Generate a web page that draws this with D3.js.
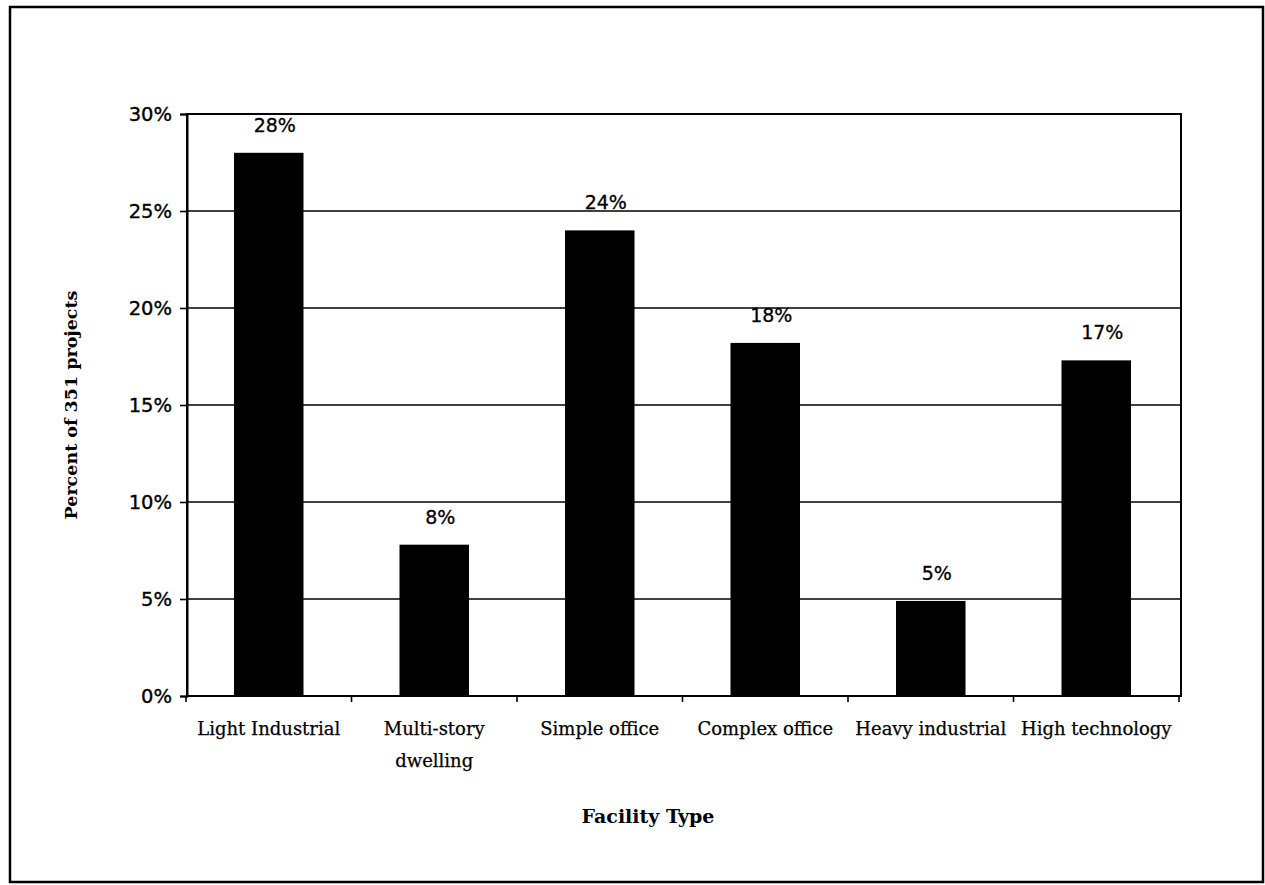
<!DOCTYPE html>
<html>
<head>
<meta charset="utf-8">
<script src="https://cdn.jsdelivr.net/npm/d3@7"></script>
<style>
  html, body { margin: 0; padding: 0; background: #fff; }
  svg { display: block; }
</style>
</head>
<body>
<svg id="chart" width="1265" height="885"></svg>
<script>
// Facility types and the share of the 351 projects in each (percent)
const categories = [
  ["Light Industrial"],
  ["Multi-story", "dwelling"],
  ["Simple  office"],
  ["Complex office"],
  ["Heavy industrial"],
  ["High technology"]
];
const shares = [28.0, 7.8, 24.0, 18.2, 4.9, 17.3];
const yTicks = [0, 5, 10, 15, 20, 25, 30];
const xTitle = "Facility Type";
const yTitle = "Percent of 351 projects";

const svg = d3.select("#chart");
const W = 1265, H = 885;
const plot = { left: 187, right: 1181, top: 114, bottom: 696 };

// outer frame
svg.append("rect")
  .attr("x", 10).attr("y", 7)
  .attr("width", W - 12).attr("height", H - 10)
  .attr("fill", "#fff").attr("stroke", "#000").attr("stroke-width", 2.5);

const x = d3.scaleBand()
  .domain(d3.range(categories.length))
  .range([plot.left - 1, plot.right - 2])
  .paddingInner(0.58)
  .paddingOuter(0.29);

const y = d3.scaleLinear()
  .domain([0, 30])
  .range([plot.bottom, plot.top]);

// horizontal gridlines
svg.append("g")
  .selectAll("line")
  .data(yTicks)
  .join("line")
  .attr("x1", plot.left).attr("x2", plot.right)
  .attr("y1", d => y(d)).attr("y2", d => y(d))
  .attr("stroke", "#000").attr("stroke-width", 1.6);

// plot frame
svg.append("rect")
  .attr("x", plot.left).attr("y", plot.top)
  .attr("width", plot.right - plot.left).attr("height", plot.bottom - plot.top)
  .attr("fill", "none").attr("stroke", "#000").attr("stroke-width", 2);

// y axis with percent labels
const yAxis = d3.axisLeft(y)
  .tickValues(yTicks)
  .tickFormat(d => d + "%")
  .tickSize(7)
  .tickPadding(8);
const gy = svg.append("g")
  .attr("transform", `translate(${plot.left},0)`)
  .call(yAxis);
gy.select(".domain").attr("stroke", "#000").attr("stroke-width", 2);
gy.selectAll(".tick line").attr("stroke", "#000").attr("stroke-width", 1.6);
gy.selectAll(".tick text")
  .attr("fill", "#000")
  .style("font-family", "'DejaVu Sans', sans-serif")
  .style("font-size", "19.5px")
  .attr("stroke", "#000").attr("stroke-width", 0.35);

// category tick marks on the baseline, at band boundaries
const boundaries = d3.range(categories.length + 1)
  .map(i => plot.left - 1 + i * x.step());
svg.append("g")
  .selectAll("line")
  .data(boundaries)
  .join("line")
  .attr("x1", d => d).attr("x2", d => d)
  .attr("y1", plot.bottom).attr("y2", plot.bottom + 6)
  .attr("stroke", "#000").attr("stroke-width", 1.6);

// bars
svg.append("g")
  .selectAll("rect")
  .data(shares)
  .join("rect")
  .attr("x", (d, i) => x(i))
  .attr("y", d => y(d))
  .attr("width", x.bandwidth())
  .attr("height", d => y(0) - y(d))
  .attr("fill", "#000");

// value labels above bars
svg.append("g")
  .selectAll("text")
  .data(shares)
  .join("text")
  .attr("x", (d, i) => x(i) + x.bandwidth() / 2 + 6)
  .attr("y", d => y(d) - 21)
  .attr("text-anchor", "middle")
  .style("font-family", "'DejaVu Sans', sans-serif")
  .style("font-size", "19px")
  .attr("fill", "#000")
  .attr("stroke", "#000").attr("stroke-width", 0.3)
  .text(d => Math.round(d) + "%");

// category labels (may wrap to two lines)
const catG = svg.append("g")
  .selectAll("text")
  .data(categories)
  .join("text")
  .attr("x", (d, i) => x(i) + x.bandwidth() / 2)
  .attr("y", 735)
  .attr("text-anchor", "middle")
  .style("font-family", "'DejaVu Serif', serif")
  .style("font-size", "18px")
  .attr("fill", "#000")
  .attr("stroke", "#000").attr("stroke-width", 0.25);
catG.selectAll("tspan")
  .data(d => d)
  .join("tspan")
  .attr("x", function () { return d3.select(this.parentNode).attr("x"); })
  .attr("dy", (d, j) => j === 0 ? 0 : 32)
  .text(d => d);

// axis titles
svg.append("text")
  .attr("x", 648).attr("y", 823)
  .attr("text-anchor", "middle")
  .style("font-family", "'DejaVu Serif', serif")
  .style("font-size", "19px")
  .style("font-weight", "bold")
  .attr("fill", "#000")
  .text(xTitle);

svg.append("text")
  .attr("transform", `translate(77,${(plot.top + plot.bottom) / 2}) rotate(-90)`)
  .attr("text-anchor", "middle")
  .style("font-family", "'DejaVu Serif', serif")
  .style("font-size", "17.5px")
  .style("font-weight", "bold")
  .attr("fill", "#000")
  .text(yTitle);
</script>
</body>
</html>
